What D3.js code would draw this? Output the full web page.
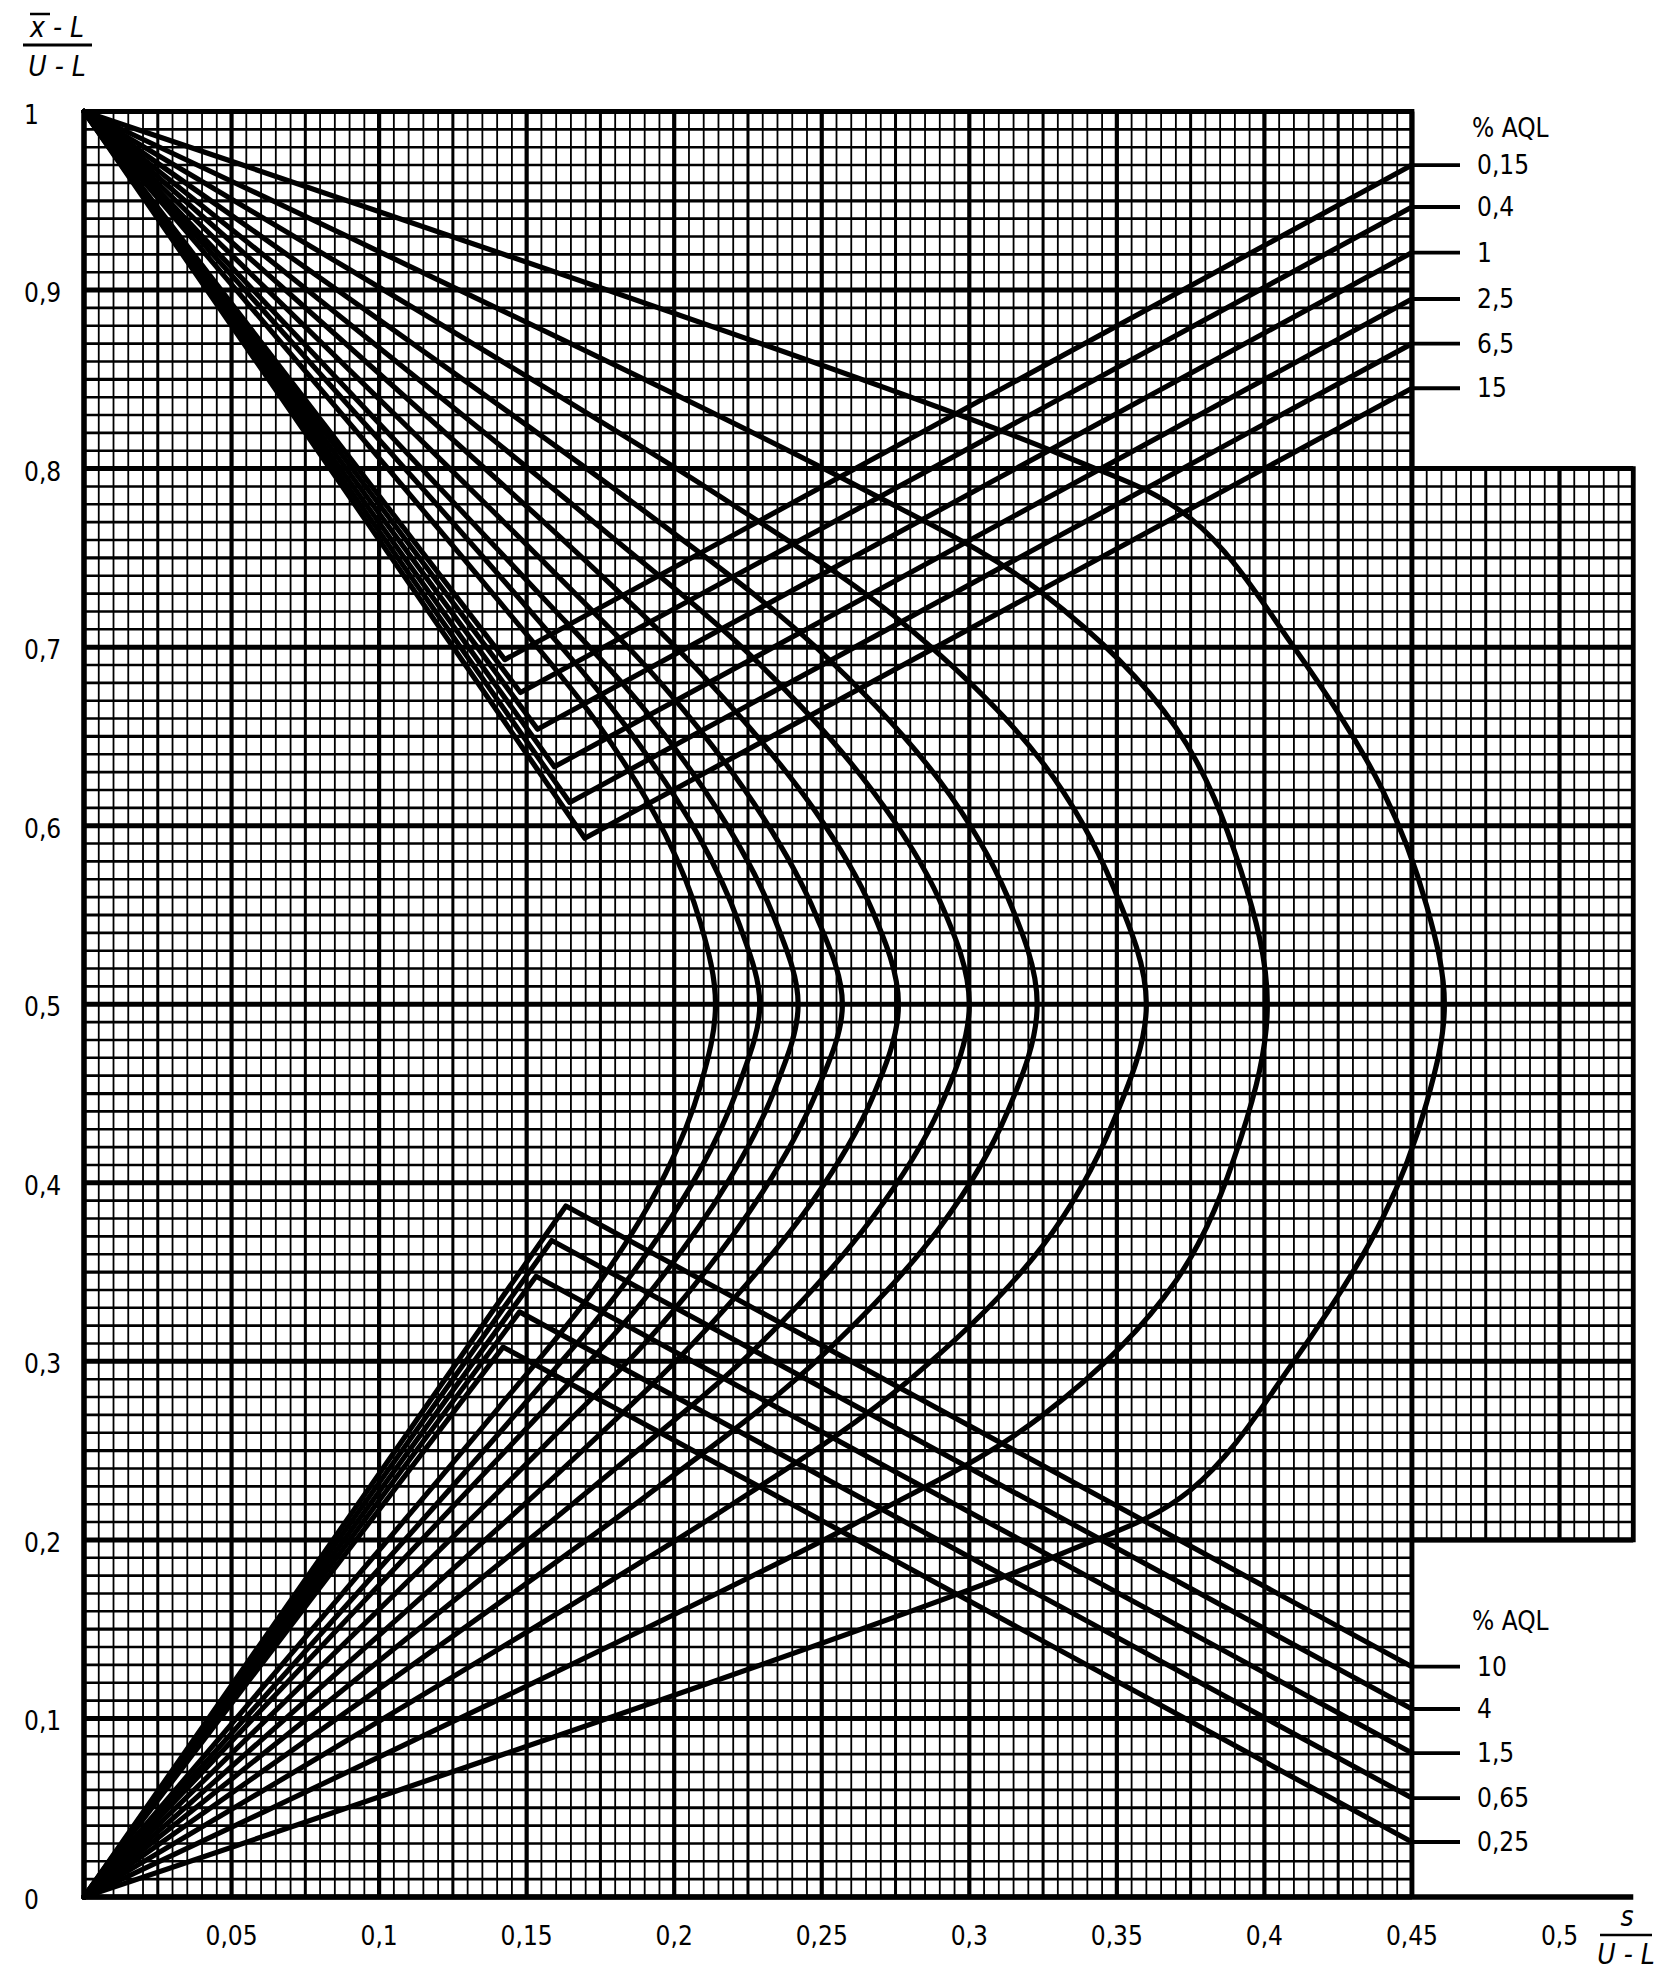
<!DOCTYPE html>
<html>
<head>
<meta charset="utf-8">
<script src="https://cdn.jsdelivr.net/npm/d3@7"></script>
<style>
  body { margin: 0; background: #fff; }
  svg { display: block; }
  text { font-family: "DejaVu Sans Condensed", "Liberation Sans Narrow", "Noto Sans", sans-serif; fill: #000; }
</style>
</head>
<body>
<svg id="chart" width="1660" height="1986"></svg>
<script>
// ---- data ----
const xTicks = [0.05, 0.1, 0.15, 0.2, 0.25, 0.3, 0.35, 0.4, 0.45, 0.5];
const xTickLabels = ["0,05", "0,1", "0,15", "0,2", "0,25", "0,3", "0,35", "0,4", "0,45", "0,5"];
const yTicks = [0, 0.1, 0.2, 0.3, 0.4, 0.5, 0.6, 0.7, 0.8, 0.9, 1];
const yTickLabels = ["0", "0,1", "0,2", "0,3", "0,4", "0,5", "0,6", "0,7", "0,8", "0,9", "1"];

// AQL labels at the right edge, and the height where their curve meets x = 0,45
const topAql = ["0,15", "0,4", "1", "2,5", "6,5", "15"];
const topAqlY = [0.970, 0.9465, 0.921, 0.895, 0.870, 0.845];
const bottomAql = ["10", "4", "1,5", "0,65", "0,25"];
const bottomAqlY = [0.129, 0.1053, 0.0806, 0.0554, 0.0308];

// closed acceptance curves, upper half: corner (0,1) -> apex at y = 0,5
const arcUpper = [
  [[0, 1], [0.33, 0.8086], [0.375, 0.772], [0.41, 0.70], [0.44, 0.62], [0.455, 0.555], [0.461, 0.5]],
  [[0, 1], [0.26, 0.792], [0.325, 0.73], [0.37, 0.655], [0.392, 0.575], [0.401, 0.5]],
  [[0, 1], [0.215, 0.785], [0.28, 0.71], [0.325, 0.635], [0.349, 0.565], [0.360, 0.5]],
  [[0, 1], [0.19, 0.776], [0.248, 0.70], [0.29, 0.625], [0.313, 0.56], [0.323, 0.5]],
  [[0, 1], [0.175, 0.767], [0.228, 0.692], [0.267, 0.62], [0.29, 0.558], [0.300, 0.5]],
  [[0, 1], [0.165, 0.756], [0.212, 0.68], [0.247, 0.61], [0.267, 0.553], [0.276, 0.5]],
  [[0, 1], [0.155, 0.749], [0.198, 0.675], [0.23, 0.605], [0.248, 0.55], [0.257, 0.5]],
  [[0, 1], [0.15, 0.7375], [0.19, 0.665], [0.218, 0.60], [0.234, 0.548], [0.242, 0.5]],
  [[0, 1], [0.145, 0.732], [0.183, 0.657], [0.208, 0.595], [0.222, 0.545], [0.229, 0.5]],
  [[0, 1], [0.14, 0.727], [0.175, 0.655], [0.197, 0.595], [0.209, 0.545], [0.214, 0.5]]
];
// lower half: apex at y = 0,5 -> corner (0,0)
const arcLower = [
  [[0.461, 0.5], [0.455, 0.445], [0.44, 0.38], [0.41, 0.30], [0.375, 0.228], [0.33, 0.1914], [0, 0]],
  [[0.401, 0.5], [0.392, 0.425], [0.37, 0.345], [0.325, 0.27], [0.26, 0.208], [0, 0]],
  [[0.360, 0.5], [0.349, 0.435], [0.325, 0.365], [0.28, 0.29], [0.215, 0.215], [0, 0]],
  [[0.323, 0.5], [0.313, 0.44], [0.29, 0.375], [0.248, 0.30], [0.19, 0.224], [0, 0]],
  [[0.300, 0.5], [0.29, 0.442], [0.267, 0.38], [0.228, 0.308], [0.175, 0.233], [0, 0]],
  [[0.276, 0.5], [0.267, 0.447], [0.247, 0.39], [0.212, 0.32], [0.165, 0.244], [0, 0]],
  [[0.257, 0.5], [0.248, 0.45], [0.23, 0.395], [0.198, 0.325], [0.155, 0.251], [0, 0]],
  [[0.242, 0.5], [0.234, 0.452], [0.218, 0.40], [0.19, 0.335], [0.15, 0.2625], [0, 0]],
  [[0.229, 0.5], [0.222, 0.455], [0.208, 0.405], [0.183, 0.343], [0.145, 0.268], [0, 0]],
  [[0.214, 0.5], [0.209, 0.455], [0.197, 0.405], [0.175, 0.345], [0.14, 0.273], [0, 0]]
];

// V-shaped curves running out to the AQL labels: corner -> turning point -> label at x = 0,45
const topTurn = [[0.1426, 0.693], [0.1479, 0.6746], [0.1537, 0.654], [0.1594, 0.633], [0.1646, 0.613], [0.1697, 0.593]];
const bottomTurn = [[0.1633, 0.387], [0.1585, 0.3677], [0.1532, 0.3477], [0.1476, 0.3277], [0.142, 0.308]];

// ---- layout ----
const svg = d3.select("#chart");
const x = d3.scaleLinear().domain([0, 0.5]).range([84, 1559.5]);
const y = d3.scaleLinear().domain([0, 1]).range([1897, 111.5]);

const grid = svg.append("g").attr("stroke", "#000").attr("fill", "none");

function hLines(y0, y1, x0, x1) {
  for (let i = Math.round(y0 * 100); i <= Math.round(y1 * 100); i++) {
    let w = i % 10 === 0 ? 5 : (i % 5 === 0 ? 3.2 : 2.6);
    grid.append("line")
      .attr("x1", x(x0)).attr("x2", x(x1))
      .attr("y1", y(i / 100)).attr("y2", y(i / 100))
      .attr("stroke-width", w);
  }
}
function vLines(x0, x1, y0, y1) {
  for (let i = Math.round(x0 * 200); i <= Math.round(x1 * 200); i++) {
    let w = i % 10 === 0 ? 4.2 : (i % 5 === 0 ? 3 : 1.8);
    grid.append("line")
      .attr("x1", x(i / 200)).attr("x2", x(i / 200))
      .attr("y1", y(y0)).attr("y2", y(y1))
      .attr("stroke-width", w);
  }
}
hLines(0, 1, 0, 0.45);
vLines(0, 0.45, 0, 1);
// the grid goes on past 0,45 between 0,2 and 0,8
hLines(0.2, 0.8, 0.45, 0.525);
vLines(0.455, 0.525, 0.2, 0.8);

// frame
grid.append("path")
  .attr("d", `M${x(0)},${y(1)}H${x(0.45)}V${y(0.8)}H${x(0.525)}V${y(0.2)}H${x(0.45)}`)
  .attr("stroke-width", 4.8);
grid.append("line").attr("x1", x(0)).attr("x2", x(0.525))
  .attr("y1", y(0)).attr("y2", y(0)).attr("stroke-width", 5.5);
grid.append("line").attr("x1", x(0)).attr("x2", x(0))
  .attr("y1", y(0)).attr("y2", y(1)).attr("stroke-width", 5.5);
grid.append("line").attr("x1", x(0.45)).attr("x2", x(0.45))
  .attr("y1", y(0)).attr("y2", y(1)).attr("stroke-width", 4.8);

// ---- curves ----
const smooth = d3.line().x(d => x(d[0])).y(d => y(d[1])).curve(d3.curveCatmullRom.alpha(0.5));
const straight = d3.line().x(d => x(d[0])).y(d => y(d[1]));
const curves = svg.append("g").attr("fill", "none").attr("stroke", "#000")
  .attr("stroke-width", 5.2).attr("stroke-linejoin", "round").attr("stroke-linecap", "round");

arcUpper.forEach((up, i) => {
  curves.append("path").attr("d", smooth(up.concat(arcLower[i].slice(1))));
});

topTurn.forEach((t, i) => {
  curves.append("path").attr("d", straight([[0, 1], t, [0.45, topAqlY[i]]]));
});
bottomTurn.forEach((t, i) => {
  curves.append("path").attr("d", straight([[0, 0], t, [0.45, bottomAqlY[i]]]));
});

// ---- labels ----
const labels = svg.append("g").attr("font-size", 26);

yTicks.forEach((t, i) => {
  labels.append("text").attr("x", 24).attr("y", y(t) + 12).text(yTickLabels[i]);
});
xTicks.forEach((t, i) => {
  labels.append("text").attr("x", x(t)).attr("y", 1945)
    .attr("text-anchor", "middle").text(xTickLabels[i]);
});

function aqlColumn(title, titleY, names, ys) {
  labels.append("text").attr("x", 1472).attr("y", titleY).text(title);
  names.forEach((n, i) => {
    svg.append("line").attr("x1", x(0.45)).attr("x2", 1460)
      .attr("y1", y(ys[i])).attr("y2", y(ys[i]))
      .attr("stroke", "#000").attr("stroke-width", 3.8);
    labels.append("text").attr("x", 1477).attr("y", y(ys[i]) + 9).text(n);
  });
}
aqlColumn("% AQL", 137, topAql, topAqlY);
aqlColumn("% AQL", 1630, bottomAql, bottomAqlY);

// axis titles as fractions
const italic = svg.append("g").attr("font-size", 28).attr("font-style", "italic");
italic.append("text").attr("x", 57).attr("y", 37).attr("text-anchor", "middle").text("x - L");
svg.append("line").attr("x1", 30).attr("x2", 50).attr("y1", 14).attr("y2", 14)
  .attr("stroke", "#000").attr("stroke-width", 2.5);
svg.append("line").attr("x1", 23).attr("x2", 92).attr("y1", 45).attr("y2", 45)
  .attr("stroke", "#000").attr("stroke-width", 3);
italic.append("text").attr("x", 57).attr("y", 76).attr("text-anchor", "middle").text("U - L");

italic.append("text").attr("x", 1627).attr("y", 1926).attr("text-anchor", "middle").text("s");
svg.append("line").attr("x1", 1600).attr("x2", 1652).attr("y1", 1935).attr("y2", 1935)
  .attr("stroke", "#000").attr("stroke-width", 2.5);
italic.append("text").attr("x", 1626).attr("y", 1964).attr("text-anchor", "middle").text("U - L");
</script>
</body>
</html>
